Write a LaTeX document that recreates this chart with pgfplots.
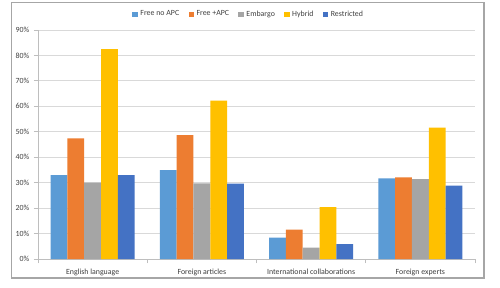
\documentclass[border=0pt]{standalone}
\usepackage{pgfplots}
\pgfplotsset{compat=1.18}
\usepackage{fontspec}
\setmainfont{Carlito}

\definecolor{cBlue}{HTML}{5B9BD5}
\definecolor{cOrange}{HTML}{ED7D31}
\definecolor{cGray}{HTML}{A5A5A5}
\definecolor{cYellow}{HTML}{FFC000}
\definecolor{cDark}{HTML}{4472C4}
\definecolor{txt}{HTML}{404040}
\definecolor{gridc}{HTML}{D9D9D9}
\definecolor{framec}{HTML}{A6A6A6}

\begin{document}
\begin{tikzpicture}
% canvas 375pt x 215.25pt (0.75pt per px)
\useasboundingbox[fill=white] (0pt,0pt) rectangle (375pt,215.25pt);
\draw[framec, line width=0.9pt] (8.6pt,6.8pt) rectangle (363pt,213.4pt);
\begin{axis}[
  at={(28.5pt,21pt)}, anchor=south west,
  scale only axis,
  width=327.75pt, height=171.75pt,
  ybar=0pt, bar width=0.154,
  xmin=-0.5, xmax=3.5,
  ymin=0, ymax=90,
  xtick={0,1,2,3},
  xticklabels={English language, Foreign articles, International collaborations, Foreign experts},
  minor xtick={-0.5,0.5,1.5,2.5,3.5},
  major x tick style={draw=none},
  minor x tick style={draw=gridc!70!gray, line width=0.6pt},
  minor tick length=3pt,
  ytick={0,10,...,90},
  yticklabel={\pgfmathprintnumber{\tick}\%},
  /pgf/number format/assume math mode=true,
  ymajorgrids,
  grid style={draw=gridc, line width=0.6pt},
  axis line style={draw=gridc!70!gray, line width=0.6pt},
  axis x line*=bottom, axis y line*=left,
  y tick style={draw=gridc!70!gray, line width=0.6pt},
  major tick length=3pt,
  tick align=outside,
  ticklabel style={font=\fontsize{5.9}{6.5}\selectfont, text=txt},
  xticklabel style={yshift=-1pt},
  legend columns=5,
  legend style={draw=none, fill=none, font=\fontsize{5.9}{6.5}\selectfont, text=txt,
    at={(0.483,1.068)}, anchor=center,
    /tikz/every even column/.append style={column sep=5pt}},
  legend image code/.code={\fill[#1] (0pt,-2pt) rectangle (4pt,2pt);},
  every axis plot/.append style={draw=none},
]
\addplot[fill=cBlue]   coordinates {(0,33.0) (1,34.9) (2,8.4) (3,31.7)};
\addplot[fill=cOrange] coordinates {(0,47.4) (1,48.7) (2,11.5) (3,32.1)};
\addplot[fill=cGray]   coordinates {(0,30.0) (1,29.7) (2,4.5) (3,31.4)};
\addplot[fill=cYellow] coordinates {(0,82.5) (1,62.2) (2,20.4) (3,51.6)};
\addplot[fill=cDark]   coordinates {(0,33.0) (1,29.6) (2,5.8) (3,28.8)};
\legend{Free no APC, Free +APC, Embargo, Hybrid, Restricted}
\end{axis}
\end{tikzpicture}
\end{document}
